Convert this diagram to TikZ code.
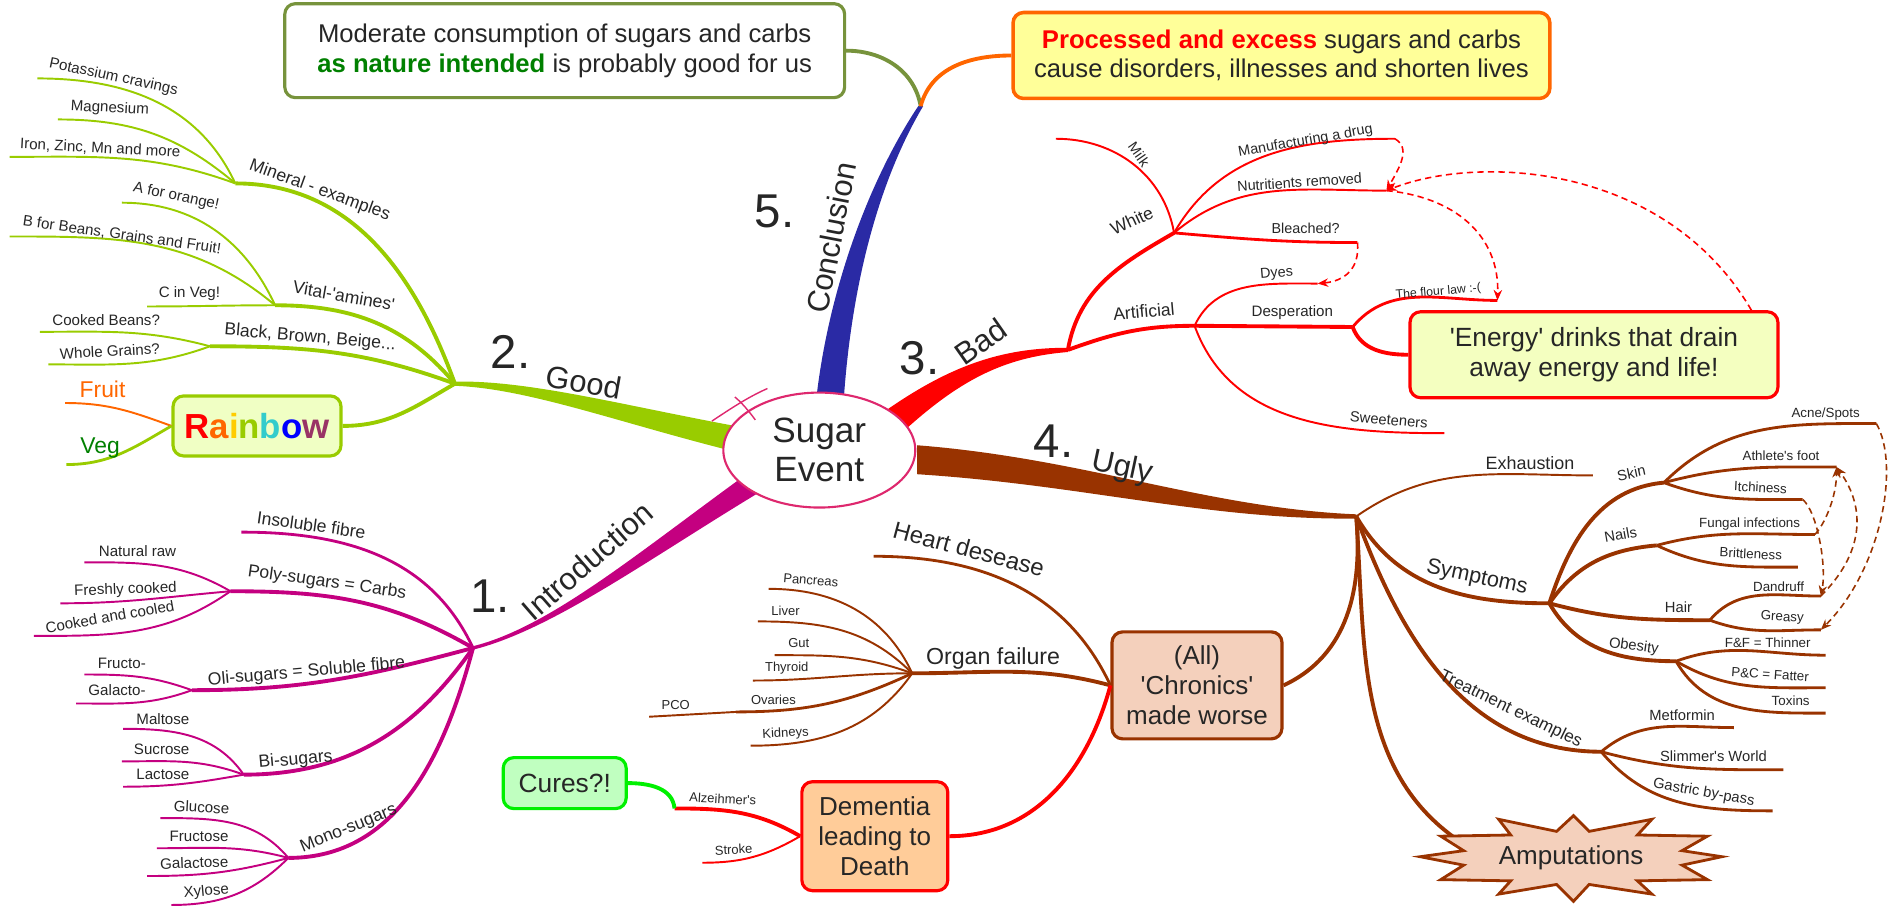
\documentclass[tikz,border=0pt]{standalone}
\usepackage{fontspec}
\setmainfont{Liberation Sans}
\usetikzlibrary{positioning,shapes.geometric,arrows.meta}

\definecolor{txt}{RGB}{38,38,38}
\definecolor{goodc}{RGB}{153,204,0}
\definecolor{introc}{RGB}{196,0,128}
\definecolor{badc}{RGB}{255,0,0}
\definecolor{uglyc}{RGB}{153,51,0}
\definecolor{conc}{RGB}{42,42,165}
\definecolor{olivec}{RGB}{119,147,60}
\definecolor{orangec}{RGB}{255,102,0}
\definecolor{evc}{RGB}{222,40,110}
\definecolor{natgreen}{RGB}{0,128,0}
\definecolor{procfill}{RGB}{255,255,153}
\definecolor{energyfill}{RGB}{244,255,192}
\definecolor{chronfill}{RGB}{244,208,188}
\definecolor{demfill}{RGB}{255,204,153}
\definecolor{curefill}{RGB}{192,255,192}
\definecolor{curec}{RGB}{0,240,0}
\definecolor{rainfill}{RGB}{240,255,196}
\definecolor{rainy}{RGB}{255,204,0}
\definecolor{rainc}{RGB}{51,204,204}
\definecolor{rainp}{RGB}{153,51,102}

\tikzset{
  lbl/.style={text=txt,inner sep=0pt,font=\fontsize{#1}{#1}\selectfont},
  box/.style={draw,rounded corners=3pt,line width=0.9pt,align=center,text=txt,inner sep=0pt,font=\fontsize{7.4}{8.5}\selectfont},
  brA/.style={line width=1.1pt},
  brB/.style={line width=0.8pt},
  lfA/.style={line width=0.55pt},
  dasharr/.style={line width=0.45pt,dash pattern=on 1.8pt off 1.2pt,-{Stealth[length=3pt,width=2.4pt]}},
}

\begin{document}
\begin{tikzpicture}[x=0.012066cm,y=-0.012066cm]
\useasboundingbox (0,0) rectangle (1568,752);

% junctions
\coordinate (gj) at (377,318);
\coordinate (ij) at (392,537);
\coordinate (cj) at (763,88);
\coordinate (bj) at (885,290);
\coordinate (uj) at (1124,428);

% main branches
\fill[introc] (646,398) .. controls (543,459) and (461,521) .. ([yshift=-0.5pt]ij) -- ([yshift=0.5pt]ij) .. controls (459,519) and (537,451) .. (634,382) -- cycle;
\fill[goodc] (620,355) .. controls (520,337) and (440,315) .. ([yshift=0.6pt]gj) -- ([yshift=-0.6pt]gj) .. controls (440,322) and (520,353) .. (620,377) -- cycle;
\fill[conc] (676,335) .. controls (686,240) and (721,148) .. ([xshift=-0.7pt]cj) -- ([xshift=0.7pt]cj) .. controls (727,152) and (705,240) .. (699,335) -- cycle;
\fill[badc] (747,359) .. controls (794,316) and (831,296) .. ([yshift=-0.6pt]bj) -- ([yshift=0.6pt]bj) .. controls (829,288) and (786,304) .. (733,341) -- cycle;
\fill[uglyc] (760,369) .. controls (900,380) and (1000,421) .. ([yshift=0.6pt]uj) -- ([yshift=-0.6pt]uj) .. controls (1000,431) and (900,402) .. (760,393) -- cycle;

\node[ellipse,draw=evc,fill=white,line width=0.6pt,minimum width=1.92cm,minimum height=1.15cm,align=center,text=txt,inner sep=0pt,font=\fontsize{10}{11}\selectfont] (ev) at (679,373) {Sugar\\Event};
\draw[evc,line width=0.4pt] (590,349) .. controls (605,339) and (620,329) .. (636,322);
\draw[evc,line width=0.4pt] (609,329) .. controls (615,334) and (620,340) .. (626,348);

% boxes
\node[box,draw=olivec,fill=white,minimum width=5.6cm,minimum height=0.94cm,font=\fontsize{7.3}{8.4}\selectfont] (mod) at (468,42) {Moderate consumption of sugars and carbs\\{\bfseries\color{natgreen}as nature intended} is probably good for us};
\node[box,draw=orangec,fill=procfill,line width=1pt,minimum width=5.37cm,minimum height=0.86cm,font=\fontsize{7.3}{8.4}\selectfont] (proc) at (1062,46) {{\bfseries\color{badc}Processed and excess} sugars and carbs\\cause disorders, illnesses and shorten lives};
\node[box,draw=badc,fill=energyfill,minimum width=3.68cm,minimum height=0.86cm,font=\fontsize{7.5}{8.6}\selectfont] (energy) at (1321,294) {\textquotesingle Energy\textquotesingle{} drinks that drain\\away energy and life!};
\node[box,draw=uglyc,fill=chronfill,minimum width=1.70cm,minimum height=1.07cm] (chron) at (992,568) {(All)\\\textquotesingle Chronics\textquotesingle\\made worse};
\node[box,draw=badc,fill=demfill,minimum width=1.46cm,minimum height=1.09cm] (dem) at (725,693) {Dementia\\leading to\\Death};
\node[box,draw=curec,fill=curefill,minimum width=1.23cm,minimum height=0.51cm,font=\fontsize{7.5}{8.5}\selectfont] (cure) at (468,649) {Cures?!};
\node[box,draw=goodc,fill=rainfill,minimum width=1.68cm,minimum height=0.6cm,font=\fontsize{9.9}{11}\selectfont\bfseries] (rain) at (213,353) {\color{badc}R\color{orangec}a\color{rainy}i\color{goodc}n\color{rainc}b\color{blue}o\color{rainp}w};

% conclusion
\draw[olivec,brA] (cj) to[out=100,in=0] (mod.east);
\draw[orangec,brA] (cj) to[out=75,in=180] (proc.west);

% 2. Good
\begin{scope}[goodc]
\coordinate (minj) at (195,152);
\coordinate (vitj) at (228,253);
\coordinate (blkj) at (174,287);
\coordinate (pot) at (31,65);
\coordinate (mag) at (48,99);
\coordinate (iron) at (8,130);
\coordinate (aor) at (101,168);
\coordinate (bfor) at (8,196);
\coordinate (cveg) at (122,254);
\coordinate (cbean) at (33,275);
\coordinate (wgrain) at (40,302);
\coordinate (fruit) at (54,334);
\coordinate (veg) at (55,385);
\draw[brA] (gj) to[out=110,in=0] (minj);
\draw[brA] (gj) to[out=130,in=0] (vitj);
\draw[brA] (gj) to[out=160,in=0] (blkj);
\draw[brA] (gj) to[out=210,in=0] (rain.east);
\draw[lfA] (minj) to[out=115,in=0] (pot);
\draw[lfA] (minj) to[out=140,in=0] (mag);
\draw[lfA] (minj) to[out=160,in=0] (iron);
\draw[lfA] (vitj) to[out=115,in=0] (aor);
\draw[lfA] (vitj) to[out=140,in=0] (bfor);
\draw[lfA] (vitj) to[out=180,in=0] (cveg);
\draw[lfA] (blkj) to[out=165,in=0] (cbean);
\draw[lfA] (blkj) to[out=200,in=0] (wgrain);
\draw[lfA,orangec] (rain.west) to[out=160,in=0] (fruit);
\draw[brB] (rain.west) to[out=210,in=0] (veg);
\end{scope}

% 1. Introduction
\begin{scope}[introc]
\coordinate (insol) at (200,441);
\coordinate (polyj) at (191,490);
\coordinate (natraw) at (70,466);
\coordinate (fresh) at (50,500);
\coordinate (cooled) at (28,527);
\coordinate (olij) at (159,572);
\coordinate (fructo) at (70,559);
\coordinate (galacto) at (63,583);
\coordinate (bij) at (202,642);
\coordinate (malt) at (102,604);
\coordinate (sucr) at (101,631);
\coordinate (lact) at (102,652);
\coordinate (monoj) at (239,711);
\coordinate (gluc) at (133,678);
\coordinate (fructose) at (130,703);
\coordinate (galactose) at (122,726);
\coordinate (xyl) at (142,750);
\draw[brB] (ij) to[out=115,in=0] (insol);
\draw[brA] (ij) to[out=150,in=0] (polyj);
\draw[brA] (ij) to[out=195,in=0] (olij);
\draw[brA] (ij) to[out=235,in=0] (bij);
\draw[brA] (ij) to[out=255,in=0] (monoj);
\draw[lfA] (polyj) to[out=150,in=0] (natraw);
\draw[lfA] (polyj) to[out=185,in=0] (fresh);
\draw[lfA] (polyj) to[out=215,in=0] (cooled);
\draw[lfA] (olij) to[out=160,in=0] (fructo);
\draw[lfA] (olij) to[out=200,in=0] (galacto);
\draw[lfA] (bij) to[out=125,in=0] (malt);
\draw[lfA] (bij) to[out=160,in=0] (sucr);
\draw[lfA] (bij) to[out=190,in=0] (lact);
\draw[lfA] (monoj) to[out=130,in=0] (gluc);
\draw[lfA] (monoj) to[out=165,in=0] (fructose);
\draw[lfA] (monoj) to[out=195,in=0] (galactose);
\draw[lfA] (monoj) to[out=225,in=0] (xyl);
\end{scope}

% 3. Bad
\begin{scope}[badc]
\coordinate (whj) at (973,193);
\coordinate (milk) at (875,115);
\coordinate (manu) at (1156,115);
\coordinate (nutr) at (1149,158);
\coordinate (bleach) at (1125,201);
\coordinate (artj) at (990,270);
\coordinate (dyes) at (1092,235);
\coordinate (despj) at (1121,271);
\coordinate (flour) at (1241,249);
\coordinate (sweet) at (1197,359);
\draw[brA] (bj) to[out=80,in=210] (whj);
\draw[brA] (bj) to[out=20,in=180] (artj);
\draw[lfA] (whj) to[out=100,in=0] (milk);
\draw[lfA] (whj) to[out=60,in=180] (manu);
\draw[lfA] (whj) to[out=40,in=180] (nutr);
\draw[brB] (whj) to[out=-5,in=180] (bleach);
\draw[lfA] (artj) to[out=65,in=180] (dyes);
\draw[brA] (artj) -- (despj);
\draw[lfA] (artj) to[out=-70,in=180] (sweet);
\draw[brB] (despj) to[out=50,in=180] (flour);
\draw[brA] (despj) to[out=-70,in=180] (energy.west);
\draw[dasharr] (manu) .. controls +(14,8) and +(10,-18) .. (nutr);
\draw[dasharr] (nutr) .. controls +(55,5) and +(2,-55) .. (flour);
\draw[dasharr] (bleach) .. controls +(2,22) and +(22,-2) .. (dyes);
\draw[dasharr] ([xshift=-8pt]energy.north east) .. controls (1380,135) and (1225,128) .. (nutr);
\end{scope}

% 4. Ugly
\begin{scope}[uglyc]
\coordinate (exh) at (1320,394);
\coordinate (symj) at (1284,500);
\coordinate (skinj) at (1379,400);
\coordinate (acne) at (1555,351);
\coordinate (athl) at (1522,387);
\coordinate (itch) at (1494,414);
\coordinate (nailj) at (1373,452);
\coordinate (fung) at (1504,443);
\coordinate (britt) at (1490,470);
\coordinate (hairj) at (1417,514);
\coordinate (dand) at (1509,494);
\coordinate (greasy) at (1509,522);
\coordinate (obj) at (1389,548);
\coordinate (ff) at (1513,543);
\coordinate (pc) at (1513,570);
\coordinate (tox) at (1513,591);
\coordinate (treatj) at (1327,623);
\coordinate (metf) at (1437,603);
\coordinate (slim) at (1478,638);
\coordinate (gastric) at (1469,672);
\coordinate (ampin) at (1222,705);
\coordinate (ampc) at (1302,711);
\draw[lfA] (uj) to[out=35,in=180] (exh);
\draw[brA] (uj) to[out=-60,in=180] (symj);
\draw[brA] (uj) to[out=-70,in=180] (treatj);
\draw[brA] (uj) to[out=-85,in=25] (chron.east);
\draw[brA] (uj) to[out=-86,in=150] (ampin);
\draw[brA] (symj) to[out=72,in=185] (skinj);
\draw[brA] (symj) to[out=55,in=185] (nailj);
\draw[brA] (symj) to[out=-15,in=180] (hairj);
\draw[brA] (symj) to[out=-60,in=180] (obj);
\draw[brB] (skinj) to[out=45,in=180] (acne);
\draw[brB] (skinj) to[out=15,in=180] (athl);
\draw[brB] (skinj) to[out=-20,in=180] (itch);
\draw[brB] (nailj) to[out=15,in=180] (fung);
\draw[brB] (nailj) to[out=-25,in=180] (britt);
\draw[brB] (hairj) to[out=50,in=180] (dand);
\draw[brB] (hairj) to[out=-20,in=180] (greasy);
\draw[brB] (obj) to[out=20,in=180] (ff);
\draw[brB] (obj) to[out=-30,in=180] (pc);
\draw[brB] (obj) to[out=-60,in=180] (tox);
\draw[brB] (treatj) to[out=40,in=180] (metf);
\draw[brB] (treatj) to[out=-15,in=180] (slim);
\draw[brB] (treatj) to[out=-50,in=180] (gastric);
\draw[dasharr] (fung) .. controls +(8,-8) and +(0,25) .. (athl);
\draw[dasharr] (dand) .. controls +(35,-35) and +(25,35) .. (athl);
\draw[dasharr] (itch) .. controls +(12,10) and +(5,-25) .. (dand);
\draw[dasharr] (acne) .. controls +(20,35) and +(50,-50) .. (greasy);
% organs
\coordinate (heart) at (724,461);
\coordinate (orgj) at (756,558);
\coordinate (panc) at (637,488);
\coordinate (liver) at (628,515);
\coordinate (gut) at (642,543);
\coordinate (thyr) at (624,564);
\coordinate (ovj) at (610,590);
\coordinate (pco) at (538,594);
\coordinate (kid) at (622,618);
\draw[brB] (chron.west) to[out=115,in=0] (heart);
\draw[brA] (chron.west) to[out=165,in=0] (orgj);
\draw[lfA] (orgj) to[out=115,in=0] (panc);
\draw[lfA] (orgj) to[out=135,in=0] (liver);
\draw[lfA] (orgj) to[out=160,in=0] (gut);
\draw[lfA] (orgj) to[out=180,in=0] (thyr);
\draw[brB] (orgj) to[out=205,in=0] (ovj);
\draw[lfA] (ovj) -- (pco);
\draw[lfA] (orgj) to[out=235,in=0] (kid);
\end{scope}

% dementia
\coordinate (alz) at (559,670);
\coordinate (stroke) at (582,715);
\draw[badc,brA] (chron.west) to[out=-105,in=0] (dem.east);
\draw[badc,brA] (dem.west) to[out=150,in=0] (alz);
\draw[badc,lfA] (dem.west) to[out=210,in=0] (stroke);
\draw[curec,brA] (cure.east) to[out=0,in=95] (alz);

% amputations
\begin{scope}[shift={(ampc)}]
\filldraw[draw=uglyc,fill=chronfill,line width=0.8pt] (2,-35) -- (15,-22) -- (67,-32) -- (55,-19) -- (113,-18) -- (92,-6) -- (125,-1) -- (92,6) -- (113,18) -- (55,19) -- (67,30) -- (15,22) -- (2,36) -- (-12,22) -- (-60,30) -- (-50,19) -- (-108,18) -- (-89,6) -- (-125,-1) -- (-89,-6) -- (-108,-18) -- (-50,-19) -- (-60,-32) -- (-12,-22) -- cycle;
\end{scope}
\node[lbl=7.4] (amp) at (ampc) {Amputations};

% main labels
\node[lbl=8.8,rotate=41] (introl) at (487,465) {Introduction};
\node[lbl=13.5] (n1) at (406,494) {1.};
\node[lbl=8.8,rotate=-10] (goodl) at (484,317) {Good};
\node[lbl=13.5] (n2) at (423,292) {2.};
\node[lbl=8.8,rotate=79] (concl) at (689,197) {Conclusion};
\node[lbl=13.5] (n5) at (642,175) {5.};
\node[lbl=8.8,rotate=35] (badl) at (813,283) {Bad};
\node[lbl=13.5] (n3) at (762,297) {3.};
\node[lbl=8.8,rotate=-12] (uglyl) at (930,388) {Ugly};
\node[lbl=13.5] (n4) at (873,366) {4.};

% good labels
\node[lbl=5,rotate=-20] (minl) at (265,158) {Mineral - examples};
\node[lbl=4.3,rotate=-12] (potl) at (94,64) {Potassium cravings};
\node[lbl=4.3,rotate=-3] (magl) at (91,90) {Magnesium};
\node[lbl=4.3,rotate=-3] (ironl) at (83,123) {Iron, Zinc, Mn and more};
\node[lbl=5,rotate=-10] (vitl) at (285,245) {Vital-\textquotesingle amines\textquotesingle};
\node[lbl=4.3,rotate=-12] (aorl) at (146,163) {A for orange!};
\node[lbl=4.3,rotate=-8] (bforl) at (101,195) {B for Beans, Grains and Fruit!};
\node[lbl=4.3] (cvegl) at (157,243) {C in Veg!};
\node[lbl=5,rotate=-5] (blkl) at (257,280) {Black, Brown, Beige...};
\node[lbl=4.3] (cbeanl) at (88,265) {Cooked Beans?};
\node[lbl=4.3,rotate=3] (wgrainl) at (91,291) {Whole Grains?};
\node[lbl=6.5,text=orangec] (fruitl) at (85,323) {Fruit};
\node[lbl=6.5,text=natgreen] (vegl) at (83,371) {Veg};

% intro labels
\node[lbl=5,rotate=-8] (insoll) at (258,435) {Insoluble fibre};
\node[lbl=5,rotate=-8] (polyl) at (271,483) {Poly-sugars = Carbs};
\node[lbl=4.3] (natrawl) at (114,457) {Natural raw};
\node[lbl=4.3,rotate=2] (freshl) at (104,489) {Freshly cooked};
\node[lbl=4.3,rotate=10] (cooledl) at (91,511) {Cooked and cooled};
\node[lbl=5,rotate=5] (olil) at (254,557) {Oli-sugars = Soluble fibre};
\node[lbl=4.3] (fructol) at (101,550) {Fructo-};
\node[lbl=4.3] (galactol) at (97,572) {Galacto-};
\node[lbl=5,rotate=5] (bil) at (245,630) {Bi-sugars};
\node[lbl=4.3] (maltl) at (135,596) {Maltose};
\node[lbl=4.3] (sucrl) at (134,621) {Sucrose};
\node[lbl=4.3] (lactl) at (135,642) {Lactose};
\node[lbl=5,rotate=22] (monol) at (289,687) {Mono-sugars};
\node[lbl=4.3,rotate=-3] (glucl) at (167,669) {Glucose};
\node[lbl=4.3] (fructosel) at (165,693) {Fructose};
\node[lbl=4.3,rotate=2] (galactosel) at (161,715) {Galactose};
\node[lbl=4.3,rotate=5] (xyll) at (171,739) {Xylose};

% bad labels
\node[lbl=5,rotate=25] (whl) at (938,183) {White};
\node[lbl=4.1,rotate=-55] (milkl) at (944,128) {Milk};
\node[lbl=4.1,rotate=10] (manul) at (1082,117) {Manufacturing a drug};
\node[lbl=4.1,rotate=4] (nutrl) at (1077,151) {Nutritients removed};
\node[lbl=4.1] (bleachl) at (1082,189) {Bleached?};
\node[lbl=5,rotate=5] (artl) at (948,258) {Artificial};
\node[lbl=4.1,rotate=5] (dyesl) at (1058,227) {Dyes};
\node[lbl=4.3] (despl) at (1071,259) {Desperation};
\node[lbl=3.5,rotate=5] (flourl) at (1192,242) {The flour law :-(};
\node[lbl=4.2,rotate=-5] (sweetl) at (1151,348) {Sweeteners};

% ugly labels
\node[lbl=5.1] (exhl) at (1268,384) {Exhaustion};
\node[lbl=6.2,rotate=-12] (syml) at (1224,479) {Symptoms};
\node[lbl=4.2,rotate=12] (skinl) at (1352,392) {Skin};
\node[lbl=3.8] (acnel) at (1513,343) {Acne/Spots};
\node[lbl=3.8] (athll) at (1476,378) {Athlete\textquotesingle s foot};
\node[lbl=3.8,rotate=-3] (itchl) at (1459,404) {Itchiness};
\node[lbl=4.2,rotate=10] (naill) at (1343,443) {Nails};
\node[lbl=3.8] (fungl) at (1450,434) {Fungal infections};
\node[lbl=3.8,rotate=-3] (brittl) at (1451,459) {Brittleness};
\node[lbl=4.2] (hairl) at (1391,503) {Hair};
\node[lbl=3.8] (dandl) at (1474,486) {Dandruff};
\node[lbl=3.8,rotate=-3] (greasyl) at (1477,512) {Greasy};
\node[lbl=4.2,rotate=-8] (obl) at (1354,536) {Obesity};
\node[lbl=3.8] (ffl) at (1465,533) {F\&F = Thinner};
\node[lbl=3.8,rotate=-4] (pcl) at (1467,559) {P\&C = Fatter};
\node[lbl=3.8] (toxl) at (1484,581) {Toxins};
\node[lbl=4.9,rotate=-26] (treatl) at (1252,588) {Treatment examples};
\node[lbl=4.2] (metfl) at (1394,593) {Metformin};
\node[lbl=4.2] (sliml) at (1420,627) {Slimmer\textquotesingle s World};
\node[lbl=4.2,rotate=-10] (gastricl) at (1412,657) {Gastric by-pass};
\node[lbl=6.8,rotate=-15] (heartl) at (803,455) {Heart desease};
\node[lbl=6.6] (orgl) at (823,546) {Organ failure};
\node[lbl=3.7,rotate=-5] (pancl) at (672,481) {Pancreas};
\node[lbl=3.7] (liverl) at (651,506) {Liver};
\node[lbl=3.7] (gutl) at (662,533) {Gut};
\node[lbl=3.7] (thyrl) at (652,554) {Thyroid};
\node[lbl=3.7] (ovl) at (641,580) {Ovaries};
\node[lbl=3.7] (pcol) at (560,584) {PCO};
\node[lbl=3.7,rotate=3] (kidl) at (651,608) {Kidneys};
\node[lbl=3.7,rotate=-3] (alzl) at (599,662) {Alzeihmer\textquotesingle s};
\node[lbl=3.7,rotate=3] (strokel) at (608,704) {Stroke};
\end{tikzpicture}
\end{document}
